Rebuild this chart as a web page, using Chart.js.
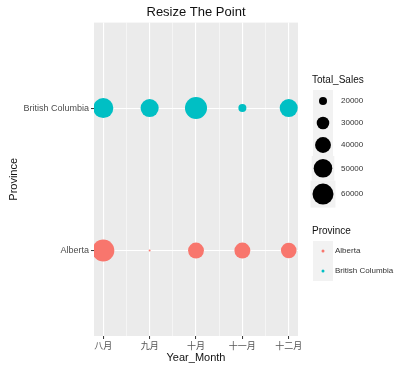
<!DOCTYPE html>
<html>
<head>
<meta charset="utf-8">
<script src="https://cdn.jsdelivr.net/npm/chart.js@4/dist/chart.umd.min.js"></script>
<style>
  html, body { margin: 0; padding: 0; background: #fff; }
  #wrap { width: 406px; height: 372px; }
</style>
</head>
<body>
<div id="wrap"><canvas id="chart" width="406" height="372"></canvas></div>
<script>
const months = ['八月', '九月', '十月', '十一月', '十二月'];
const provinces = ['Alberta', 'British Columbia'];
const albertaSales = [65000, 13500, 40000, 40000, 39000];
const bcSales = [56000, 48000, 65000, 20000, 48000];
const sizeBreaks = [20000, 30000, 40000, 50000, 60000];
const provinceColors = ['#F8766D', '#00BFC4'];

const FONT = '"Liberation Sans", "Noto Sans CJK SC", sans-serif';

// area-proportional point size, like ggplot's scale_size
function sizeOf(v) {
    return Math.max(1, Math.sqrt(Math.max(0, 2.35 * v / 1000 - 31)));
}

function toPoints(values, row) {
    return values.map((v, i) => ({ x: i, y: row, r: sizeOf(v) }));
}

const isMajor = c => c.tick && Number.isInteger(c.tick.value);

const panelBg = {
    id: 'panelBg',
    beforeDraw(chart) {
        const a = chart.chartArea, ctx = chart.ctx;
        ctx.save();
        ctx.fillStyle = '#EBEBEB';
        ctx.fillRect(a.left, a.top, a.right - a.left, a.bottom - a.top);
        ctx.restore();
    }
};

const sideLegend = {
    id: 'sideLegend',
    afterDraw(chart) {
        const ctx = chart.ctx;
        const x0 = 312, cx = 323, tx = 341;
        ctx.save();
        ctx.textBaseline = 'middle';
        ctx.textAlign = 'left';
        ctx.fillStyle = '#111';
        ctx.font = '10px ' + FONT;
        ctx.fillText('Total_Sales', x0, 80);
        let y = 90;
        sizeBreaks.forEach(v => {
            const r = sizeOf(v);
            const h = Math.max(22, 2 * r + 6);
            const w = Math.max(20, 2 * r + 4);
            ctx.fillStyle = '#F2F2F2';
            ctx.fillRect(cx - w / 2, y, w, h);
            ctx.fillStyle = '#000';
            ctx.beginPath();
            ctx.arc(cx, y + h / 2, r, 0, Math.PI * 2);
            ctx.fill();
            ctx.fillStyle = '#333';
            ctx.font = '8px ' + FONT;
            ctx.fillText(String(v), tx, y + h / 2);
            y += h;
        });
        ctx.fillStyle = '#111';
        ctx.font = '10px ' + FONT;
        ctx.fillText('Province', x0, 231);
        provinces.forEach((p, i) => {
            const yc = 251 + i * 20;
            ctx.fillStyle = '#F2F2F2';
            ctx.fillRect(cx - 10, yc - 10, 20, 20);
            ctx.fillStyle = provinceColors[i];
            ctx.beginPath();
            ctx.arc(cx, yc, 1.5, 0, Math.PI * 2);
            ctx.fill();
            ctx.fillStyle = '#333';
            ctx.font = '8px ' + FONT;
            ctx.fillText(p, 335, yc);
        });
        ctx.restore();
    }
};

new Chart(document.getElementById('chart').getContext('2d'), {
    type: 'bubble',
    data: {
        datasets: [
            {
                label: provinces[0],
                data: toPoints(albertaSales, 0),
                backgroundColor: provinceColors[0],
                borderColor: provinceColors[0],
                borderWidth: 0
            },
            {
                label: provinces[1],
                data: toPoints(bcSales, 1),
                backgroundColor: provinceColors[1],
                borderColor: provinceColors[1],
                borderWidth: 0
            }
        ]
    },
    options: {
        responsive: false,
        animation: false,
        events: [],
        layout: { padding: { left: 0, right: 108, top: 0, bottom: 0 } },
        scales: {
            x: {
                type: 'linear',
                min: -0.2,
                max: months.length - 0.8,
                afterBuildTicks: s => {
                    const t = [];
                    for (let i = 0; i <= 2 * (months.length - 1); i++) t.push({ value: i / 2 });
                    s.ticks = t;
                },
                afterFit: s => { s.height = 36; },
                ticks: {
                    autoSkip: false,
                    maxRotation: 0,
                    padding: 2,
                    color: '#555',
                    font: { family: FONT, size: 9 },
                    callback: v => Number.isInteger(v) ? months[v] : ''
                },
                grid: {
                    color: '#FFFFFF',
                    lineWidth: c => isMajor(c) ? 1.1 : 0.5,
                    tickColor: c => isMajor(c) ? '#333333' : 'rgba(0,0,0,0)',
                    tickLength: 3,
                    tickWidth: 1
                },
                border: { display: false },
                title: {
                    display: true,
                    text: 'Year_Month',
                    color: '#111',
                    font: { family: FONT, size: 11 },
                    padding: { top: 0, bottom: 7 }
                }
            },
            y: {
                type: 'linear',
                min: -0.6,
                max: provinces.length - 0.4,
                afterBuildTicks: s => { s.ticks = provinces.map((p, i) => ({ value: i })); },
                afterFit: s => { s.width = 94; },
                ticks: {
                    padding: 2,
                    color: '#4D4D4D',
                    font: { family: FONT, size: 9 },
                    callback: v => provinces[v]
                },
                grid: {
                    color: '#FFFFFF',
                    lineWidth: 1.1,
                    tickColor: '#333333',
                    tickLength: 3,
                    tickWidth: 1
                },
                border: { display: false },
                title: {
                    display: true,
                    text: 'Province',
                    color: '#111',
                    font: { family: FONT, size: 11 },
                    padding: { top: 7, bottom: 0 }
                }
            }
        },
        plugins: {
            legend: { display: false },
            tooltip: { enabled: false },
            title: {
                display: true,
                text: 'Resize The Point',
                fullSize: false,
                color: '#111',
                font: { family: FONT, size: 13, weight: 'normal' },
                padding: { top: 5, bottom: 2 }
            }
        }
    },
    plugins: [panelBg, sideLegend]
});
</script>
</body>
</html>
